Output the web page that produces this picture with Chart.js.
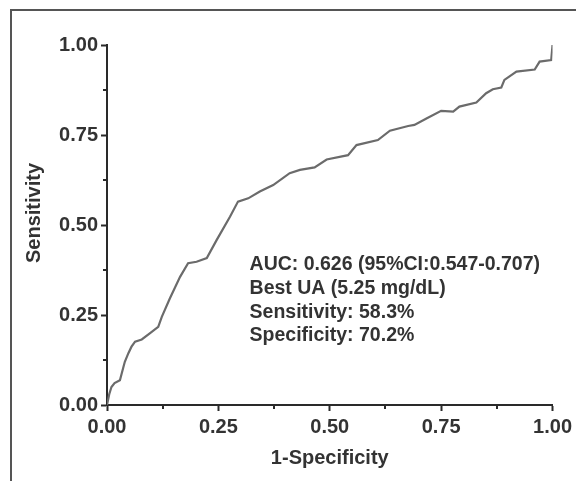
<!DOCTYPE html>
<html>
<head>
<meta charset="utf-8">
<script src="https://cdn.jsdelivr.net/npm/chart.js@4.4.1/dist/chart.umd.min.js"></script>
<style>
  html, body { margin: 0; padding: 0; background: #fff; }
  #wrap { position: relative; width: 576px; height: 481px; }
  #frame { position: absolute; left: 10px; top: 9px; width: 580px; height: 480px;
           border-top: 2px solid #555; border-left: 2px solid #555; pointer-events: none; }
  canvas { display: block; }
</style>
</head>
<body>
<div id="wrap">
  <canvas id="c" width="576" height="481"></canvas>
  <div id="frame"></div>
</div>
<script>
// ROC curve
const fpr = [0, 0.005, 0.01, 0.017, 0.029, 0.037, 0.04, 0.048, 0.055, 0.063, 0.078, 0.096, 0.115, 0.123, 0.141, 0.164, 0.182, 0.201, 0.224, 0.246, 0.276, 0.294, 0.317, 0.343, 0.373, 0.41, 0.433, 0.466, 0.493, 0.541, 0.56, 0.608, 0.635, 0.676, 0.69, 0.717, 0.75, 0.777, 0.791, 0.829, 0.851, 0.866, 0.885, 0.892, 0.919, 0.96, 0.971, 0.997, 1.0];
const tpr = [0, 0.03, 0.05, 0.061, 0.069, 0.106, 0.12, 0.144, 0.162, 0.176, 0.182, 0.199, 0.217, 0.245, 0.296, 0.356, 0.394, 0.398, 0.408, 0.458, 0.523, 0.565, 0.574, 0.593, 0.611, 0.644, 0.653, 0.66, 0.682, 0.694, 0.722, 0.736, 0.762, 0.775, 0.778, 0.796, 0.817, 0.815, 0.829, 0.84, 0.866, 0.877, 0.882, 0.903, 0.926, 0.932, 0.954, 0.958, 1.0];
const tickValues = [0, 0.25, 0.5, 0.75, 1.0];
const minorTickValues = [0.125, 0.375, 0.625, 0.875];
const xTitle = '1-Specificity';
const yTitle = 'Sensitivity';
const annotationLines = ['AUC: 0.626 (95%CI:0.547-0.707)', 'Best UA (5.25 mg/dL)', 'Sensitivity: 58.3%', 'Specificity: 70.2%'];

const FONT = '"Liberation Sans", Arial, sans-serif';
const TXT = '#333';
const AX = '#2a2a2a';

const points = fpr.map((x, i) => ({ x: x, y: tpr[i] }));

const extras = {
  id: 'extras',
  afterDraw(chart) {
    const ctx = chart.ctx;
    const xs = chart.scales.x, ys = chart.scales.y;
    const area = chart.chartArea;
    ctx.save();
    // minor ticks
    ctx.strokeStyle = AX;
    ctx.lineWidth = 2;
    minorTickValues.forEach(v => {
      const px = Math.round(xs.getPixelForValue(v));
      ctx.beginPath(); ctx.moveTo(px, area.bottom); ctx.lineTo(px, area.bottom + 4); ctx.stroke();
      const py = Math.round(ys.getPixelForValue(v));
      ctx.beginPath(); ctx.moveTo(area.left, py); ctx.lineTo(area.left - 4, py); ctx.stroke();
    });
    // axis titles
    ctx.fillStyle = TXT;
    ctx.font = 'bold 20px ' + FONT;
    ctx.textAlign = 'center';
    ctx.textBaseline = 'middle';
    ctx.fillText(xTitle, (area.left + area.right) / 2, 458);
    ctx.save();
    ctx.translate(34, 213);
    ctx.rotate(-Math.PI / 2);
    ctx.fillText(yTitle, 0, 0);
    ctx.restore();
    // annotation
    ctx.font = 'bold 19.5px ' + FONT;
    ctx.textAlign = 'left';
    const ax = xs.getPixelForValue(0.32);
    annotationLines.forEach((t, i) => {
      ctx.fillText(t, ax, 265 + i * 23.7);
    });
    ctx.restore();
  }
};

new Chart(document.getElementById('c'), {
  type: 'scatter',
  data: {
    datasets: [{
      data: points,
      showLine: true,
      borderColor: '#6b6b6b',
      borderWidth: 2.2,
      pointRadius: 0,
      tension: 0,
      fill: false
    }]
  },
  options: {
    responsive: false,
    animation: false,
    events: [],
    layout: { padding: { top: 45, right: 23, left: 0, bottom: 0 } },
    plugins: { legend: { display: false }, tooltip: { enabled: false }, title: { display: false } },
    scales: {
      x: {
        type: 'linear', min: 0, max: 1,
        afterBuildTicks: s => { s.ticks = tickValues.map(v => ({ value: v })); },
        afterFit: s => { s.height = 76; },
        ticks: { color: TXT, font: { family: FONT, size: 20, weight: 'bold' }, padding: 4, maxRotation: 0,
                 callback: v => Number(v).toFixed(2) },
        grid: { drawOnChartArea: false, drawTicks: true, tickLength: 6, tickColor: AX, tickWidth: 2 },
        border: { display: true, color: AX, width: 2 }
      },
      y: {
        type: 'linear', min: 0, max: 1,
        afterBuildTicks: s => { s.ticks = tickValues.map(v => ({ value: v })); },
        afterFit: s => { s.width = 107; },
        ticks: { color: TXT, font: { family: FONT, size: 20, weight: 'bold' }, padding: 3,
                 callback: v => Number(v).toFixed(2) },
        grid: { drawOnChartArea: false, drawTicks: true, tickLength: 6, tickColor: AX, tickWidth: 2 },
        border: { display: true, color: AX, width: 2 }
      }
    }
  },
  plugins: [extras]
});
</script>
</body>
</html>
